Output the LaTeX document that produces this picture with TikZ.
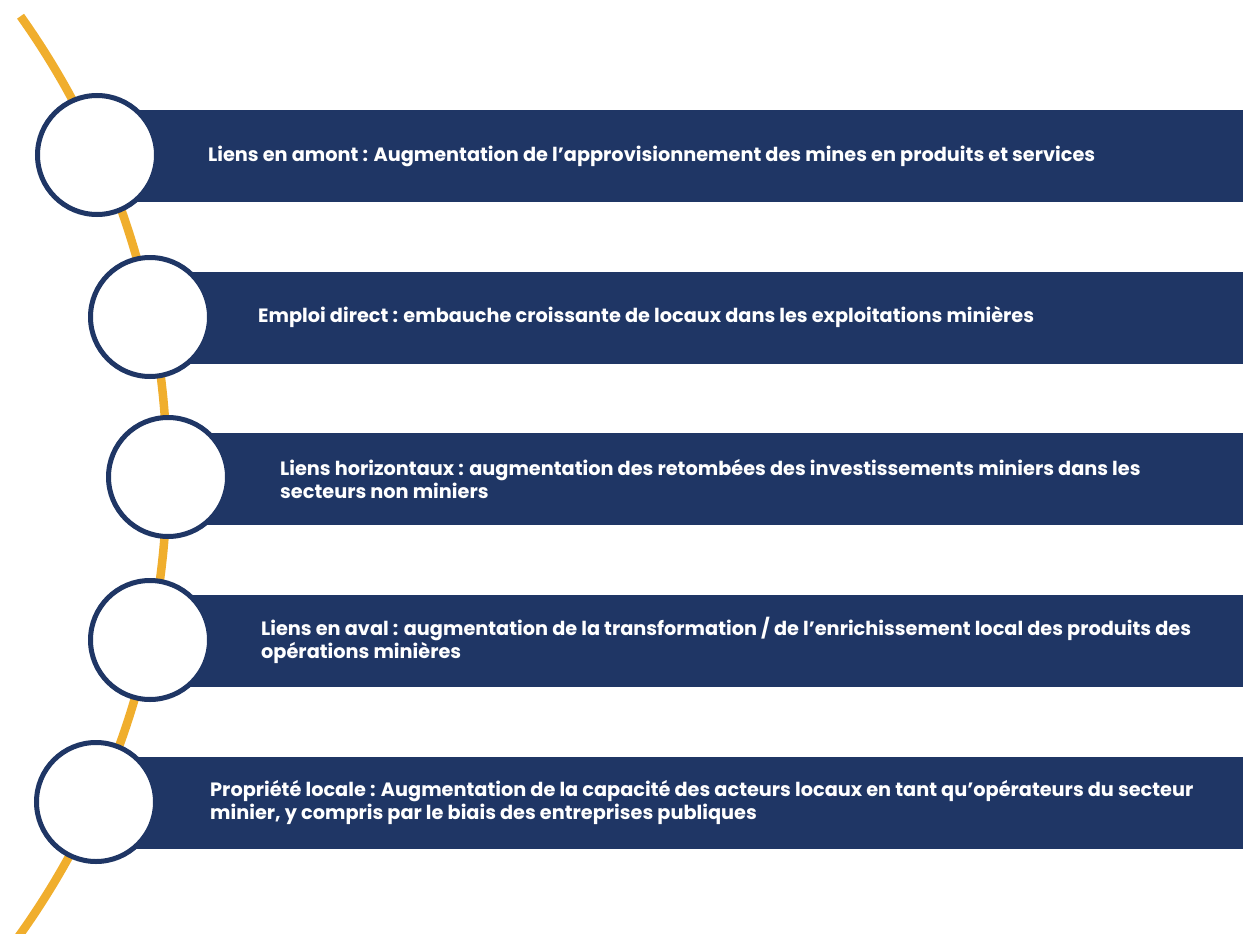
\documentclass[tikz,border=0pt]{standalone}
\usepackage{fontspec}
\setmainfont{Poppins}
\definecolor{navy}{HTML}{1F3665}
\definecolor{gold}{HTML}{F0AE2D}
\tikzset{
  arcline/.style={draw=gold, line width=8.5pt},
  bar/.style={fill=navy, draw=none, minimum height=92pt, anchor=west, inner sep=0pt},
  dot/.style={circle, draw=navy, fill=white, line width=5pt, minimum size=119pt, inner sep=0pt},
  lbl/.style={anchor=west, text=white, align=left, inner sep=0pt, font=\bfseries\fontsize{19.3}{23}\selectfont}
}
\begin{document}
\begin{tikzpicture}[x=1pt,y=1pt]
\useasboundingbox (0,0) rectangle (1243,-934);
% arc
\coordinate (ac) at (-625,-475);
\draw[arcline] (ac) ++(35.4:792pt) arc[start angle=35.4, end angle=-36.5, radius=792pt];
% bars
\node[bar, minimum width=1146pt] (b1) at (97,-156) {};
\node[bar, minimum width=1093pt] (b2) at (150,-317.5) {};
\node[bar, minimum width=1075pt] (b3) at (168,-479) {};
\node[bar, minimum width=1093pt] (b4) at (150,-640.5) {};
\node[bar, minimum width=1147pt] (b5) at (96,-802.5) {};
% circles
\node[dot] (c1) at (97,-155) {};
\node[dot] (c2) at (150,-317) {};
\node[dot] (c3) at (168,-477) {};
\node[dot] (c4) at (150,-640) {};
\node[dot] (c5) at (96,-802) {};
% labels
\node[lbl] (t1) at (208,-156) {Liens en amont : Augmentation de l’approvisionnement des mines en produits et services};
\node[lbl] (t2) at (258,-317.5) {Emploi direct : embauche croissante de locaux dans les exploitations minières};
\node[lbl] (t3) at (280,-479) {Liens horizontaux : augmentation des retombées des investissements miniers dans les\\secteurs non miniers};
\node[lbl] (t4) at (261,-640.5) {Liens en aval : augmentation de la transformation / de l’enrichissement local des produits des\\opérations minières};
\node[lbl] (t5) at (210,-802.5) {Propriété locale : Augmentation de la capacité des acteurs locaux en tant qu’opérateurs du secteur\\minier, y compris par le biais des entreprises publiques};
\end{tikzpicture}
\end{document}
